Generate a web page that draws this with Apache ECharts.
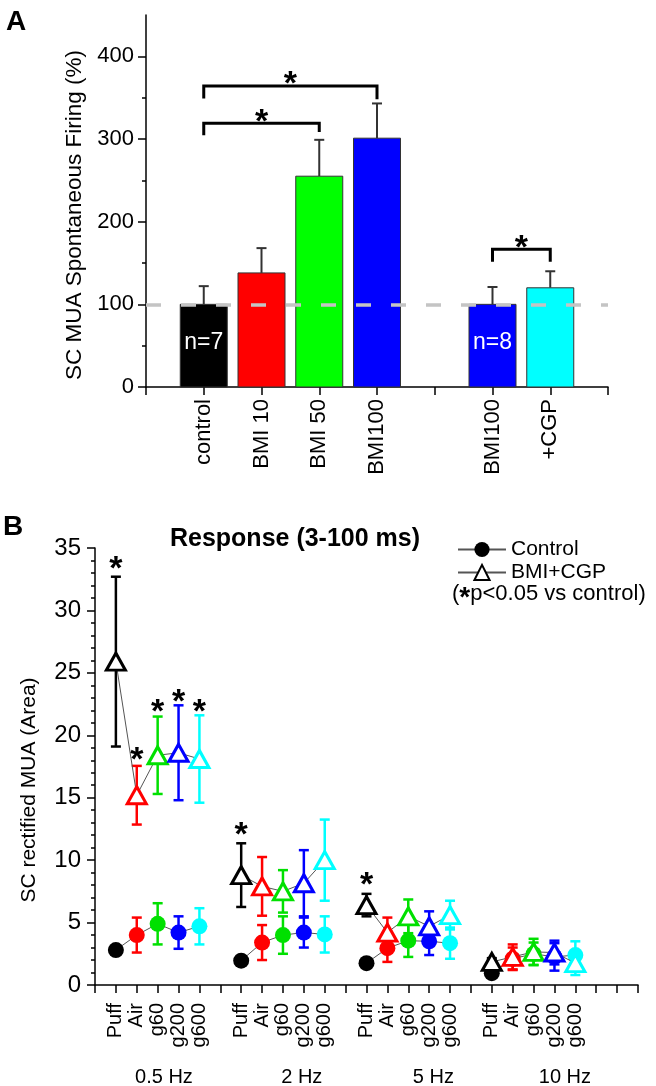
<!DOCTYPE html>
<html><head><meta charset="utf-8">
<script src="https://cdn.jsdelivr.net/npm/echarts@6/dist/echarts.min.js"></script>
<style>html,body{margin:0;padding:0;background:#fff}#c{width:656px;height:1086px}</style>
</head><body><div id="c"></div>
<script>
// ---------- Panel A data ----------
const catsA = ['control', 'BMI 10', 'BMI 50', 'BMI100', 'BMI100', '+CGP'];
const posA = [1, 2, 3, 4, 6, 7];
const meanA = [100, 138, 255, 301, 100, 120];
const semA = [22, 30, 44, 42, 21, 20];
const colorsA = ['#000000', '#ff0000', '#00ff00', '#0000ff', '#0000ff', '#00ffff'];
const nTextA = ['n=7', 'n=8'];
const nPosA = [1, 6];
const nYA = [54, 54];
const baselineA = 100;
const ticksA = [0, 100, 200, 300, 400];
const minorTicksA = [50, 150, 250, 350];
// significance brackets: from, to, bar height, left end, right end
const brFromA = [1, 1, 6];
const brToA = [3, 4, 7];
const brYA = [319, 364, 166.5];
const brLeftA = [304.5, 349, 151.5];
const brRightA = [308.5, 348, 151.5];

// ---------- Panel B data ----------
const conds = ['Puff', 'Air', 'g60', 'g200', 'g600'];
const freqs = ['0.5 Hz', '2 Hz', '5 Hz', '10 Hz'];
const condColors = ['#000000', '#ff0000', '#00e000', '#0000ff', '#00ffff'];
const ctrlMean = [
  [2.8, 4.0, 4.9, 4.2, 4.7],
  [1.95, 3.4, 4.0, 4.2, 4.05],
  [1.75, 2.95, 3.55, 3.5, 3.35],
  [0.95, 2.1, 2.5, 2.25, 2.4]
];
const ctrlSem = [
  [0.3, 1.4, 1.65, 1.3, 1.45],
  [0.25, 1.4, 1.5, 1.2, 1.45],
  [0.2, 1.1, 1.3, 1.1, 1.25],
  [0.2, 0.9, 0.9, 1.1, 1.1]
];
const bmiMean = [
  [25.9, 15.2, 18.4, 18.6, 18.1],
  [8.8, 7.9, 7.5, 8.15, 10.0],
  [6.4, 4.2, 5.5, 4.7, 5.6],
  [1.85, 2.25, 2.65, 2.6, 1.75]
];
const bmiSem = [
  [6.8, 2.35, 3.1, 3.8, 3.5],
  [2.55, 2.35, 1.7, 2.65, 3.25],
  [0.9, 1.2, 1.35, 1.2, 1.15],
  [0.3, 1.0, 1.05, 0.95, 0.95]
];
// stars (p<0.05): frequency index, condition index, height
const starFreqB = [0, 0, 0, 0, 0, 1, 2];
const starCondB = [0, 1, 2, 3, 4, 0, 0];
const starYB = [33.8, 18.5, 22.4, 23.2, 22.4, 12.5, 8.5];
const groupLabelX = [3.3, 9.9, 16.2, 22.5];

const FONT = '"Liberation Sans", Arial, Helvetica, sans-serif';
const xPosB = (f, i) => 1 + f * 6 + i;

// tick label lookup tables
const labelsA = {};
posA.forEach((p, k) => labelsA[p] = catsA[k]);
const labelsB = {};
freqs.forEach((_, f) => conds.forEach((c, i) => labelsB[xPosB(f, i)] = c));

// ---------- series ----------
const series = [];

// Panel A bars with error bars
series.push({
  type: 'custom', xAxisIndex: 0, yAxisIndex: 0, z: 2,
  data: posA.map((p, k) => [p, meanA[k], semA[k]]),
  renderItem(params, api) {
    const x = api.value(0), v = api.value(1), s = api.value(2);
    const base = api.coord([x, 0]), top = api.coord([x, v]), et = api.coord([x, v + s]);
    const w = 47;
    const col = colorsA[params.dataIndex];
    return { type: 'group', children: [
      { type: 'line', shape: { x1: top[0], y1: top[1], x2: et[0], y2: et[1] }, style: { stroke: '#333', lineWidth: 2 } },
      { type: 'line', shape: { x1: et[0] - 5, y1: et[1], x2: et[0] + 5, y2: et[1] }, style: { stroke: '#333', lineWidth: 2 } },
      { type: 'rect', shape: { x: base[0] - w / 2, y: top[1], width: w, height: base[1] - top[1] }, style: { fill: col, stroke: '#333', lineWidth: 1 } }
    ]};
  }
});

// Panel A brackets with stars
series.push({
  type: 'custom', xAxisIndex: 0, yAxisIndex: 0, z: 3,
  data: brFromA.map((f, k) => [f, brToA[k], brYA[k], brLeftA[k], brRightA[k]]),
  renderItem(params, api) {
    const x1 = api.value(0), x2 = api.value(1), y = api.value(2);
    const pL = api.coord([x1, api.value(3)]), pLT = api.coord([x1, y]);
    const pRT = api.coord([x2, y]), pR = api.coord([x2, api.value(4)]);
    return { type: 'group', children: [
      { type: 'polyline', shape: { points: [pL, pLT, pRT, pR] }, style: { stroke: '#000', lineWidth: 3, fill: null } },
      { type: 'text', x: (pLT[0] + pRT[0]) / 2, y: pLT[1] - 1, style: { text: '*', font: 'bold 34px ' + FONT, align: 'center', verticalAlign: 'middle', fill: '#000' } }
    ]};
  }
});

// n labels + dashed baseline
series.push({
  type: 'scatter', xAxisIndex: 0, yAxisIndex: 0, z: 5,
  symbolSize: 0,
  itemStyle: { opacity: 1 },
  data: nPosA.map((p, k) => [p, nYA[k]]),
  label: { show: true, position: 'inside', formatter: (p) => nTextA[p.dataIndex], color: '#ffffff', opacity: 1, textBorderWidth: 0, fontSize: 23, fontFamily: FONT },
  markLine: {
    silent: true, symbol: 'none', label: { show: false },
    lineStyle: { type: [15, 20], color: '#c4c4c4', width: 3.5, opacity: 1 },
    data: [[{ coord: [0, baselineA] }, { coord: [8, baselineA] }]]
  }
});

// Panel B error bars
const errData = [];
freqs.forEach((_, f) => conds.forEach((c, i) => {
  errData.push([xPosB(f, i), ctrlMean[f][i] - ctrlSem[f][i], ctrlMean[f][i] + ctrlSem[f][i], i]);
  errData.push([xPosB(f, i), bmiMean[f][i] - bmiSem[f][i], bmiMean[f][i] + bmiSem[f][i], i]);
}));
series.push({
  type: 'custom', xAxisIndex: 1, yAxisIndex: 2, z: 1,
  data: errData,
  renderItem(params, api) {
    const x = api.value(0);
    const lo = api.coord([x, api.value(1)]), hi = api.coord([x, api.value(2)]);
    const col = condColors[api.value(3)];
    const st = { stroke: col, lineWidth: 2.5 };
    return { type: 'group', children: [
      { type: 'line', shape: { x1: lo[0], y1: lo[1], x2: hi[0], y2: hi[1] }, style: st },
      { type: 'line', shape: { x1: lo[0] - 5, y1: lo[1], x2: lo[0] + 5, y2: lo[1] }, style: st },
      { type: 'line', shape: { x1: hi[0] - 5, y1: hi[1], x2: hi[0] + 5, y2: hi[1] }, style: st }
    ]};
  }
});

// Panel B line series (one per frequency group)
freqs.forEach((_, f) => {
  series.push({
    name: 'Control', type: 'line', xAxisIndex: 1, yAxisIndex: 2, z: 3,
    symbol: 'circle', symbolSize: 16,
    lineStyle: { color: '#555', width: 1 },
    itemStyle: { color: '#000' },
    data: conds.map((c, i) => ({ value: [xPosB(f, i), ctrlMean[f][i]], itemStyle: { color: condColors[i] } }))
  });
  series.push({
    name: 'BMI+CGP', type: 'line', xAxisIndex: 1, yAxisIndex: 2, z: 4,
    symbol: 'triangle', symbolSize: [19, 17],
    lineStyle: { color: '#555', width: 1 },
    itemStyle: { color: '#fff', borderColor: '#000', borderWidth: 3 },
    data: conds.map((c, i) => ({ value: [xPosB(f, i), bmiMean[f][i]], itemStyle: { color: '#fff', borderColor: condColors[i], borderWidth: 3 } }))
  });
});

// Panel B stars
series.push({
  type: 'custom', xAxisIndex: 1, yAxisIndex: 2, z: 6,
  data: starFreqB.map((f, k) => [xPosB(f, starCondB[k]), starYB[k]]),
  renderItem(params, api) {
    const p = api.coord([api.value(0), api.value(1)]);
    return { type: 'text', x: p[0], y: p[1] + 7, style: { text: '*', font: 'bold 34px ' + FONT, align: 'center', verticalAlign: 'middle', fill: '#000' } };
  }
});

// Panel B group labels below the axis
series.push({
  type: 'custom', xAxisIndex: 1, yAxisIndex: 2, z: 6,
  data: groupLabelX.map((x, k) => [x, 0]),
  renderItem(params, api) {
    const p = api.coord([api.value(0), 0]);
    return { type: 'text', x: p[0], y: p[1] + 92, style: { text: freqs[params.dataIndex], font: '20px ' + FONT, align: 'center', verticalAlign: 'middle', fill: '#000' } };
  }
});

const axisCommon = {
  axisLine: { lineStyle: { color: '#000', width: 1.5 } },
  axisTick: { lineStyle: { color: '#000', width: 1.5 }, length: 8 },
  splitLine: { show: false },
  axisLabel: { color: '#000', fontFamily: FONT }
};

const option = {
  animation: false,
  backgroundColor: '#fff',
  grid: [
    { left: 146, top: 15, width: 462, height: 372 },
    { left: 95, top: 548, width: 543, height: 437 }
  ],
  xAxis: [
    Object.assign({}, axisCommon, {
      type: 'value', gridIndex: 0, min: 0, max: 8, interval: 1,
      axisLabel: { color: '#000', fontFamily: FONT, fontSize: 22, rotate: 90, margin: 12, formatter: (v) => labelsA[v] || '' }
    }),
    Object.assign({}, axisCommon, {
      type: 'value', gridIndex: 1, min: 0, max: 26, interval: 1,
      axisLabel: { color: '#000', fontFamily: FONT, fontSize: 20, rotate: 90, margin: 18, formatter: (v) => labelsB[v] || '' }
    })
  ],
  yAxis: [
    Object.assign({}, axisCommon, {
      type: 'value', gridIndex: 0, min: 0, max: 450, interval: 50,
      axisTick: { lineStyle: { color: '#000', width: 1.5 }, length: 8, customValues: ticksA },
      axisLabel: { color: '#000', fontFamily: FONT, fontSize: 22, margin: 12, customValues: ticksA }
    }),
    {
      type: 'value', gridIndex: 0, min: 0, max: 450, interval: 50, position: 'left',
      axisLine: { show: false }, splitLine: { show: false },
      axisTick: { show: true, lineStyle: { color: '#000', width: 1.5 }, length: 4, customValues: minorTicksA },
      axisLabel: { show: false }
    },
    Object.assign({}, axisCommon, {
      type: 'value', gridIndex: 1, min: 0, max: 35, interval: 5,
      minorTick: { show: true, splitNumber: 5, length: 4, lineStyle: { color: '#000', width: 1.5 } },
      axisLabel: { color: '#000', fontFamily: FONT, fontSize: 24, margin: 14 }
    })
  ],
  legend: {
    orient: 'vertical', left: 452, top: 534, itemWidth: 48, itemHeight: 19, itemGap: 2,
    textStyle: { fontSize: 21, fontFamily: FONT, color: '#000' },
    data: ['Control', 'BMI+CGP']
  },
  graphic: [
    { type: 'text', x: 16, y: 22, style: { text: 'A', font: 'bold 28px ' + FONT, align: 'center', verticalAlign: 'middle', fill: '#000' } },
    { type: 'text', x: 13, y: 527, style: { text: 'B', font: 'bold 28px ' + FONT, align: 'center', verticalAlign: 'middle', fill: '#000' } },
    { type: 'text', x: 75, y: 215, rotation: Math.PI / 2, style: { text: 'SC MUA Spontaneous Firing (%)', font: '22.5px ' + FONT, align: 'center', verticalAlign: 'middle', fill: '#000' } },
    { type: 'text', x: 29, y: 790, rotation: Math.PI / 2, style: { text: 'SC rectified MUA (Area)', font: '21px ' + FONT, align: 'center', verticalAlign: 'middle', fill: '#000' } },
    { type: 'text', x: 295, y: 539, style: { text: 'Response (3-100 ms)', font: 'bold 25px ' + FONT, align: 'center', verticalAlign: 'middle', fill: '#000' } },
    { type: 'text', x: 452, y: 594, style: {
      text: '({s|*}p<0.05 vs control)', font: '22px ' + FONT, align: 'left', verticalAlign: 'middle', fill: '#000',
      rich: { s: { font: 'bold 28px ' + FONT, fill: '#000', padding: [8, 0, 0, 0] } }
    } }
  ],
  series: series
};

const chart = echarts.init(document.getElementById('c'), null, { renderer: 'canvas' });
chart.setOption(option);
</script>
</body></html>
